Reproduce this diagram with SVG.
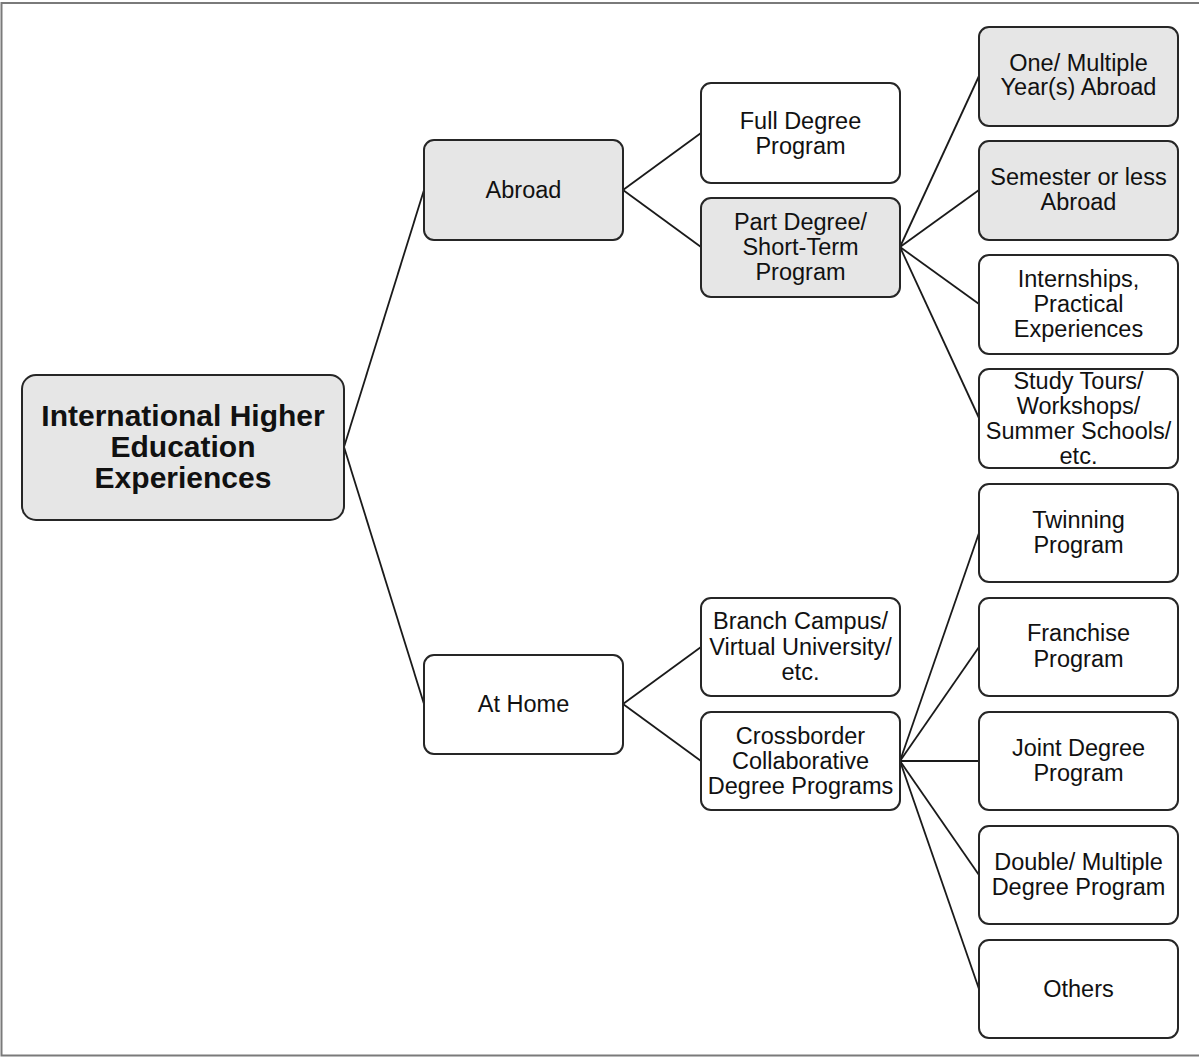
<svg xmlns="http://www.w3.org/2000/svg" width="1199" height="1057" viewBox="0 0 1199 1057">
  <style>
    .box { stroke: #262626; stroke-width: 2; }
    .white { fill: #ffffff; }
    .grey { fill: #e6e6e6; }
    .label { font-family: "Liberation Sans", Arial, sans-serif; font-size: 23.5px; fill: #111111; text-anchor: middle; }
    .title { font-family: "Liberation Sans", Arial, sans-serif; font-size: 30px; font-weight: bold; fill: #111111; text-anchor: middle; }
    .link { stroke: #1a1a1a; stroke-width: 1.8; fill: none; }
    .frame { stroke: #7a7a7a; stroke-width: 2; fill: none; }
  </style>

  <rect x="0" y="0" width="1199" height="1057" fill="#ffffff"/>

  <!-- page frame: top, left and bottom rules -->
  <path class="frame" d="M1199,3 H1.5 V1055.5 H1199"/>

  <!-- connectors -->
  <g id="connectors">
    <line class="link" x1="344" y1="447" x2="424" y2="190"/>
    <line class="link" x1="344" y1="447" x2="424" y2="704"/>
    <line class="link" x1="623" y1="190" x2="701" y2="133"/>
    <line class="link" x1="623" y1="190" x2="701" y2="247"/>
    <line class="link" x1="900" y1="247" x2="979" y2="76"/>
    <line class="link" x1="900" y1="247" x2="979" y2="190"/>
    <line class="link" x1="900" y1="247" x2="979" y2="304"/>
    <line class="link" x1="900" y1="247" x2="979" y2="418"/>
    <line class="link" x1="623" y1="704" x2="701" y2="647"/>
    <line class="link" x1="623" y1="704" x2="701" y2="761"/>
    <line class="link" x1="900" y1="761" x2="979" y2="533"/>
    <line class="link" x1="900" y1="761" x2="979" y2="647"/>
    <line class="link" x1="900" y1="761" x2="979" y2="761"/>
    <line class="link" x1="900" y1="761" x2="979" y2="875"/>
    <line class="link" x1="900" y1="761" x2="979" y2="989"/>
  </g>

  <!-- root -->
  <g id="root">
    <rect class="box grey" x="22" y="375" width="322" height="145" rx="14"/>
    <text class="title" x="183" y="426">International Higher</text>
    <text class="title" x="183" y="457">Education</text>
    <text class="title" x="183" y="488">Experiences</text>
  </g>

  <!-- second level -->
  <g id="abroad">
    <rect class="box grey" x="424" y="140" width="199" height="100" rx="10"/>
    <text class="label" x="523.5" y="198">Abroad</text>
  </g>
  <g id="at-home">
    <rect class="box white" x="424" y="655" width="199" height="99" rx="10"/>
    <text class="label" x="523.5" y="712">At Home</text>
  </g>

  <!-- third level -->
  <g id="full-degree">
    <rect class="box white" x="701" y="83" width="199" height="100" rx="10"/>
    <text class="label" x="800.5" y="129">Full Degree</text>
    <text class="label" x="800.5" y="154">Program</text>
  </g>
  <g id="part-degree">
    <rect class="box grey" x="701" y="198" width="199" height="99" rx="10"/>
    <text class="label" x="800.5" y="230">Part Degree/</text>
    <text class="label" x="800.5" y="255">Short-Term</text>
    <text class="label" x="800.5" y="280">Program</text>
  </g>
  <g id="branch-campus">
    <rect class="box white" x="701" y="598" width="199" height="98" rx="10"/>
    <text class="label" x="800.5" y="629">Branch Campus/</text>
    <text class="label" x="800.5" y="655">Virtual University/</text>
    <text class="label" x="800.5" y="680">etc.</text>
  </g>
  <g id="crossborder">
    <rect class="box white" x="701" y="712" width="199" height="98" rx="10"/>
    <text class="label" x="800.5" y="744">Crossborder</text>
    <text class="label" x="800.5" y="769">Collaborative</text>
    <text class="label" x="800.5" y="794">Degree Programs</text>
  </g>

  <!-- fourth level: abroad -->
  <g id="one-multiple-years">
    <rect class="box grey" x="979" y="27" width="199" height="99" rx="10"/>
    <text class="label" x="1078.5" y="71">One/ Multiple</text>
    <text class="label" x="1078.5" y="95">Year(s) Abroad</text>
  </g>
  <g id="semester">
    <rect class="box grey" x="979" y="141" width="199" height="99" rx="10"/>
    <text class="label" x="1078.5" y="185">Semester or less</text>
    <text class="label" x="1078.5" y="210">Abroad</text>
  </g>
  <g id="internships">
    <rect class="box white" x="979" y="255" width="199" height="99" rx="10"/>
    <text class="label" x="1078.5" y="287">Internships,</text>
    <text class="label" x="1078.5" y="312">Practical</text>
    <text class="label" x="1078.5" y="337">Experiences</text>
  </g>
  <g id="study-tours">
    <rect class="box white" x="979" y="369" width="199" height="99" rx="10"/>
    <text class="label" x="1078.5" y="389">Study Tours/</text>
    <text class="label" x="1078.5" y="414">Workshops/</text>
    <text class="label" x="1078.5" y="439">Summer Schools/</text>
    <text class="label" x="1078.5" y="464">etc.</text>
  </g>

  <!-- fourth level: at home -->
  <g id="twinning">
    <rect class="box white" x="979" y="484" width="199" height="98" rx="10"/>
    <text class="label" x="1078.5" y="528">Twinning</text>
    <text class="label" x="1078.5" y="553">Program</text>
  </g>
  <g id="franchise">
    <rect class="box white" x="979" y="598" width="199" height="98" rx="10"/>
    <text class="label" x="1078.5" y="641">Franchise</text>
    <text class="label" x="1078.5" y="667">Program</text>
  </g>
  <g id="joint-degree">
    <rect class="box white" x="979" y="712" width="199" height="98" rx="10"/>
    <text class="label" x="1078.5" y="756">Joint Degree</text>
    <text class="label" x="1078.5" y="781">Program</text>
  </g>
  <g id="double-multiple">
    <rect class="box white" x="979" y="826" width="199" height="98" rx="10"/>
    <text class="label" x="1078.5" y="870">Double/ Multiple</text>
    <text class="label" x="1078.5" y="895">Degree Program</text>
  </g>
  <g id="others">
    <rect class="box white" x="979" y="940" width="199" height="98" rx="10"/>
    <text class="label" x="1078.5" y="997">Others</text>
  </g>
</svg>
